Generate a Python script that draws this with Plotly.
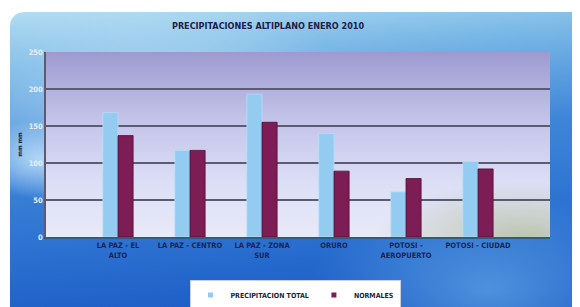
import base64
import plotly.graph_objects as go

categories = ["LA PAZ - EL<br>ALTO", "LA PAZ - CENTRO", "LA PAZ - ZONA<br>SUR",
              "ORURO", "POTOSI -<br>AEROPUERTO", "POTOSI - CIUDAD"]
precip_total = [168, 117, 193, 140, 61, 102]
normales = [137, 117, 155, 89, 79, 92]
y_ticks = [0, 50, 100, 150, 200, 250]
series_names = ["PRECIPITACION TOTAL", "NORMALES"]
series_colors = ["#93cbf1", "#7d1d56"]

# page body has an 8px margin, so the figure is laid out 8px up/left
OFF = 8
W, H = 580, 307
L, T = 46 - OFF, 52 - OFF
pw, ph = 504, 185
R, B = W - L - pw, H - T - ph

card_svg = f"""<svg xmlns='http://www.w3.org/2000/svg' width='{W}' height='{H}' viewBox='0 0 {W} {H}'>
<defs>
<linearGradient id='g' x1='0' y1='0' x2='0.15' y2='1'>
<stop offset='0' stop-color='#b3def2'/>
<stop offset='0.18' stop-color='#7ab8e6'/>
<stop offset='0.45' stop-color='#3f86d8'/>
<stop offset='0.75' stop-color='#2a6fd0'/>
<stop offset='1' stop-color='#1a58c4'/>
</linearGradient>
<radialGradient id='h' cx='0.25' cy='0.3' r='0.35'>
<stop offset='0' stop-color='#e6f6ff' stop-opacity='0.55'/>
<stop offset='1' stop-color='#e6f6ff' stop-opacity='0'/>
</radialGradient>
<radialGradient id='h2' cx='0.05' cy='0.45' r='0.12'>
<stop offset='0' stop-color='#d8f2ff' stop-opacity='0.7'/>
<stop offset='1' stop-color='#d8f2ff' stop-opacity='0'/>
</radialGradient>
<radialGradient id='h3' cx='0.8' cy='0.85' r='0.3'>
<stop offset='0' stop-color='#7fc6f2' stop-opacity='0.5'/>
<stop offset='1' stop-color='#7fc6f2' stop-opacity='0'/>
</radialGradient>
</defs>
<rect x='0' y='0' width='{W}' height='{H}' fill='white'/>
<rect x='{10-OFF}' y='{12-OFF}' width='{W+20}' height='{H+20}' rx='14' ry='14' fill='url(#g)'/>
<rect x='{10-OFF}' y='{12-OFF}' width='{W+20}' height='{H+20}' rx='14' ry='14' fill='url(#h)'/>
<rect x='{10-OFF}' y='{12-OFF}' width='{W+20}' height='{H+20}' rx='14' ry='14' fill='url(#h2)'/>
<rect x='{10-OFF}' y='{12-OFF}' width='{W+20}' height='{H+20}' rx='14' ry='14' fill='url(#h3)'/>
</svg>"""

plot_svg = f"""<svg xmlns='http://www.w3.org/2000/svg' width='{pw}' height='{ph}' viewBox='0 0 {pw} {ph}' preserveAspectRatio='none'>
<defs>
<linearGradient id='p' x1='0' y1='0' x2='0' y2='1'>
<stop offset='0' stop-color='#9e9ad0'/>
<stop offset='0.35' stop-color='#c2c2e8'/>
<stop offset='0.7' stop-color='#dcdef6'/>
<stop offset='1' stop-color='#e8eaf8'/>
</linearGradient>
<radialGradient id='q' cx='0.95' cy='1' r='0.3'>
<stop offset='0' stop-color='#b7c0a8' stop-opacity='0.9'/>
<stop offset='1' stop-color='#b7c0a8' stop-opacity='0'/>
</radialGradient>
</defs>
<rect x='0' y='0' width='{pw}' height='{ph}' fill='url(#p)'/>
<rect x='0' y='0' width='{pw}' height='{ph}' fill='url(#q)'/>
</svg>"""

def uri(svg):
    return "data:image/svg+xml;base64," + base64.b64encode(svg.encode()).decode()

font_c = "Liberation Sans Narrow, DejaVu Sans Condensed, Arial Narrow, sans-serif"

fig = go.Figure()
fig.add_trace(go.Bar(
    name=series_names[0], x=categories, y=precip_total, showlegend=False,
    marker=dict(color=series_colors[0], line=dict(color="#b8dcf5", width=0.8)),
))
fig.add_trace(go.Bar(
    name=series_names[1], x=categories, y=normales, showlegend=False,
    marker=dict(color=series_colors[1], line=dict(color="#4a0f33", width=0.8)),
))
# legend-only entries with small square keys
for name, col in zip(series_names, series_colors):
    fig.add_trace(go.Scatter(
        x=[None], y=[None], mode="markers", name=name,
        marker=dict(symbol="square", size=5, color=col),
    ))

fig.update_layout(
    width=W, height=H,
    margin=dict(l=L, r=R, t=T, b=B, autoexpand=False),
    paper_bgcolor="white",
    plot_bgcolor="rgba(0,0,0,0)",
    barmode="group",
    bargap=0.58,
    bargroupgap=0,
    title=dict(
        text="<b>PRECIPITACIONES ALTIPLANO ENERO 2010</b>",
        x=(268 - OFF) / W, xanchor="center", y=1 - (26 - OFF) / H, yanchor="middle",
        font=dict(family=font_c, size=9, color="#1d2048"),
    ),
    images=[
        dict(source=uri(card_svg), xref="paper", yref="paper",
             x=-L / pw, y=1 + T / ph, sizex=W / pw, sizey=H / ph,
             sizing="stretch", xanchor="left", yanchor="top", layer="below"),
        dict(source=uri(plot_svg), xref="paper", yref="paper",
             x=0, y=1, sizex=1, sizey=1,
             sizing="stretch", xanchor="left", yanchor="top", layer="below"),
    ],
    xaxis=dict(
        range=[-1, 6],
        automargin=False,
        showgrid=False,
        showline=True, linecolor="#2d5f7a", linewidth=2,
        tickfont=dict(family=font_c, size=7.5, color="#1d2350", weight="bold"),
        ticks="",
        tickangle=0,
    ),
    yaxis=dict(
        range=[0, 250],
        automargin=False,
        tickvals=y_ticks,
        showgrid=True, gridcolor="#5b5c72", gridwidth=1.5,
        showline=True, linecolor="#5b5c72", linewidth=1.5,
        zeroline=False,
        ticks="",
        tickfont=dict(family=font_c, size=7.5, color="#e6edf7", weight="bold"),
        title=dict(text="<b>mm mm</b>", standoff=6,
                   font=dict(family=font_c, size=6, color="#1a1f3a")),
    ),
    legend=dict(
        orientation="h",
        x=(295 - OFF - L) / pw, xanchor="center",
        y=1 - (295 - OFF - T) / ph, yanchor="middle",
        bgcolor="white", bordercolor="#c8cfe0", borderwidth=1,
        font=dict(family=font_c, size=7, color="#1a1f3a", weight="bold"),
        itemwidth=30, tracegroupgap=0, traceorder="normal",
    ),
)

fig.write_html("out.html")
